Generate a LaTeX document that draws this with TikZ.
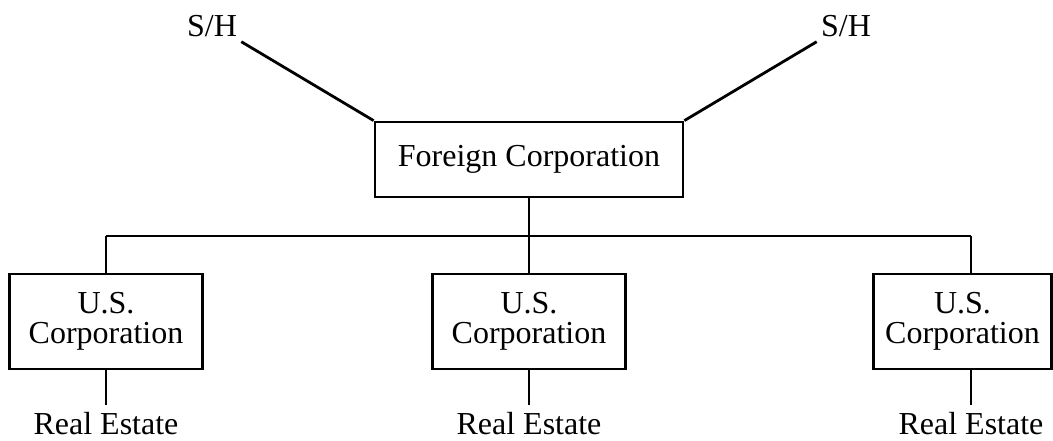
\documentclass[tikz,border=0pt]{standalone}
\usepackage{fontspec}
\setmainfont{Liberation Serif}
\begin{document}
\begin{tikzpicture}[x=1pt,y=1pt,line width=2.8pt,
    corp/.style={draw,inner sep=0pt,align=center,minimum width=193pt,minimum height=95pt,
      font=\fontsize{32}{30}\selectfont},
    lbl/.style={inner sep=3pt,anchor=base,font=\fontsize{32}{30}\selectfont},
    estate/.style={inner sep=5pt,anchor=base,font=\fontsize{32}{30}\selectfont}]
  \useasboundingbox (0,0) rectangle (1053,440);
  \draw
    (212,403) node[lbl] (sh1){S/H}
    (846,403) node[lbl] (sh2){S/H}
    (529,280.5) node[corp,minimum width=308pt,minimum height=75pt] (fc){Foreign Corporation}
    (106,118.5) node[corp] (us1){U.S.\\Corporation}
    (529,118.5) node[corp] (us2){U.S.\\Corporation}
    (962.5,118.5) node[corp,minimum width=178pt] (us3){U.S.\\Corporation}
    (106,6) node[estate] (re1){Real Estate}
    (529,6) node[estate] (re2){Real Estate}
    (971,6) node[estate] (re3){Real Estate};
  \coordinate (b1) at (106,204);
  \coordinate (b3) at (971,204);
  \begin{scope}[-]
    \draw (sh1.south east) to (fc.north west);
    \draw (sh2.south west) to (fc.north east);
    \draw (fc.south) to (fc.south |- b1);
    \draw (b1) to (b3);
    \draw (b1) to (us1.north);
    \draw (fc.south |- b1) to (us2.north);
    \draw (b3) to (b3 |- us3.north);
    \draw (us1.south) to (re1.north);
    \draw (us2.south) to (re2.north);
    \draw (re3.north) to (re3.north |- us3.south);
  \end{scope}
\end{tikzpicture}
\end{document}
